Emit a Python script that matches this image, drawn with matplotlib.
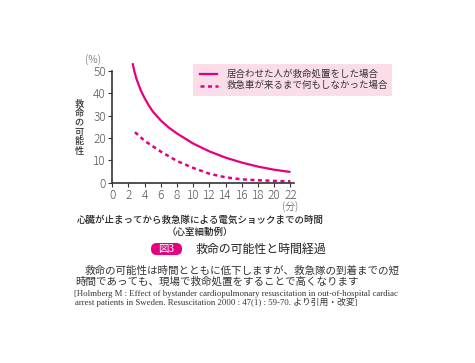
import matplotlib
matplotlib.use('Agg')
import matplotlib.pyplot as plt
from matplotlib.patches import FancyBboxPatch

plt.rcParams['font.family'] = ['Noto Sans CJK JP', 'DejaVu Sans']

# data
bystander_min = [2.5, 2.75, 3, 3.5, 4, 4.5, 5, 6, 7, 8, 10, 12, 14, 16, 18, 20, 22]
bystander_pct = [53.5, 49.5, 46.3, 41.5, 37.8, 34.6, 31.9, 27.8, 24.6, 22, 17.5, 14, 11.2, 9, 7.2, 5.8, 4.8]
none_min = [2.8, 4, 6, 8, 10, 12, 14, 16, 18, 20, 22]
none_pct = [22.6, 18.7, 13.9, 9.7, 6.6, 4.0, 2.4, 1.5, 1.1, 0.8, 0.6]
x_ticks = list(range(0, 23, 2))
y_ticks = [0, 10, 20, 30, 40, 50]
labels = ['居合わせた人が救命処置をした場合', '救急車が来るまで何もしなかった場合']

W, H = 475, 363
MAG = '#e4007f'
TXT = '#333333'

def fx(x):
    return x / W

def fy(y):
    return 1 - y / H

fig = plt.figure(figsize=(W / 100, H / 100), dpi=100)
ax = fig.add_axes([fx(112.3), fy(182.7), fx(293.7) - fx(112.3), fy(71) - fy(182.7)])

ax.plot(bystander_min, bystander_pct, color=MAG, lw=1.6, clip_on=False, solid_capstyle='butt')
ax.plot(none_min, none_pct, color=MAG, lw=1.8, dashes=(1.6, 1.4), clip_on=False)

ax.set_xlim(0, 22.4)
ax.set_ylim(0, 50)
ax.set_xticks(x_ticks)
ax.set_yticks(y_ticks)
ax.tick_params(length=3, width=0.8, color=TXT, labelsize=8.5, labelcolor='#555555', pad=1.5)
for lab in ax.get_xticklabels() + ax.get_yticklabels():
    lab.set_fontweight('light')
for s in ['top', 'right']:
    ax.spines[s].set_visible(False)
for s in ['left', 'bottom']:
    ax.spines[s].set_color(TXT)
    ax.spines[s].set_linewidth(1.2)
ax.patch.set_alpha(0)

# legend box
fig.patches.append(plt.Rectangle((fx(193), fy(96)), fx(392) - fx(193), fy(64) - fy(96),
                                 transform=fig.transFigure, facecolor='#fbdce9', edgecolor='none'))
fig.lines.append(plt.Line2D([fx(200), fx(217)], [fy(74), fy(74)], transform=fig.transFigure,
                            color=MAG, lw=1.6))
fig.lines.append(plt.Line2D([fx(200), fx(218)], [fy(85.5), fy(85.5)], transform=fig.transFigure,
                            color=MAG, lw=1.8, dashes=(1.6, 1.4)))
fig.text(fx(227), fy(74), labels[0], fontsize=6.8, color=TXT, va='center')
fig.text(fx(227), fy(85.5), labels[1], fontsize=6.8, color=TXT, va='center')

# axis annotations
fig.text(fx(93.5), fy(60), '(%)', fontsize=7.5, color='#555555', ha='center', va='center',
         weight='light')
fig.text(fx(290), fy(207.5), '(分)', fontsize=7.2, color='#555555', ha='center', va='center',
         weight='light')
for i, ch in enumerate('救命の可能性'):
    fig.text(fx(79), fy(104 + i * 9.4), ch, fontsize=6.6, color=TXT, ha='center', va='center',
             weight='medium')

fig.text(fx(200), fy(220), '心臓が止まってから救急隊による電気ショックまでの時間', fontsize=6.8,
         color='#222222', ha='center', va='center', weight='medium')
fig.text(fx(200), fy(232), '（心室細動例）', fontsize=6.8, color='#222222', ha='center', va='center',
         weight='medium')

# figure caption
fig.patches.append(FancyBboxPatch((fx(151), fy(255)), fx(182) - fx(151), fy(243) - fy(255),
                                  boxstyle='round,pad=0,rounding_size=0.012',
                                  transform=fig.transFigure, facecolor=MAG, edgecolor='none',
                                  mutation_aspect=W / H))
fig.text(fx(166.5), fy(249), '図3', fontsize=7.5, color='white', ha='center', va='center')
fig.text(fx(196), fy(249), '救命の可能性と時間経過', fontsize=8.6, color='#222222', va='center')

fig.text(fx(85), fy(270.5), '救命の可能性は時間とともに低下しますが、救急隊の到着までの短',
         fontsize=7.6, color=TXT, va='center')
fig.text(fx(75), fy(281.5), '時間であっても、現場で救命処置をすることで高くなります',
         fontsize=7.6, color=TXT, va='center')
ref_font = ['Liberation Serif', 'Noto Sans CJK JP']
fig.text(fx(74), fy(294), '[Holmberg M : Effect of bystander cardiopulmonary resuscitation in out-of-hospital cardiac',
         fontsize=6.3, color=TXT, va='center', family=ref_font)
fig.text(fx(75), fy(302.5), 'arrest patients in Sweden. Resuscitation 2000 : 47(1) : 59-70. より引用・改変]',
         fontsize=6.3, color=TXT, va='center', family=ref_font)

fig.savefig('out.png', dpi=100, facecolor='white')
